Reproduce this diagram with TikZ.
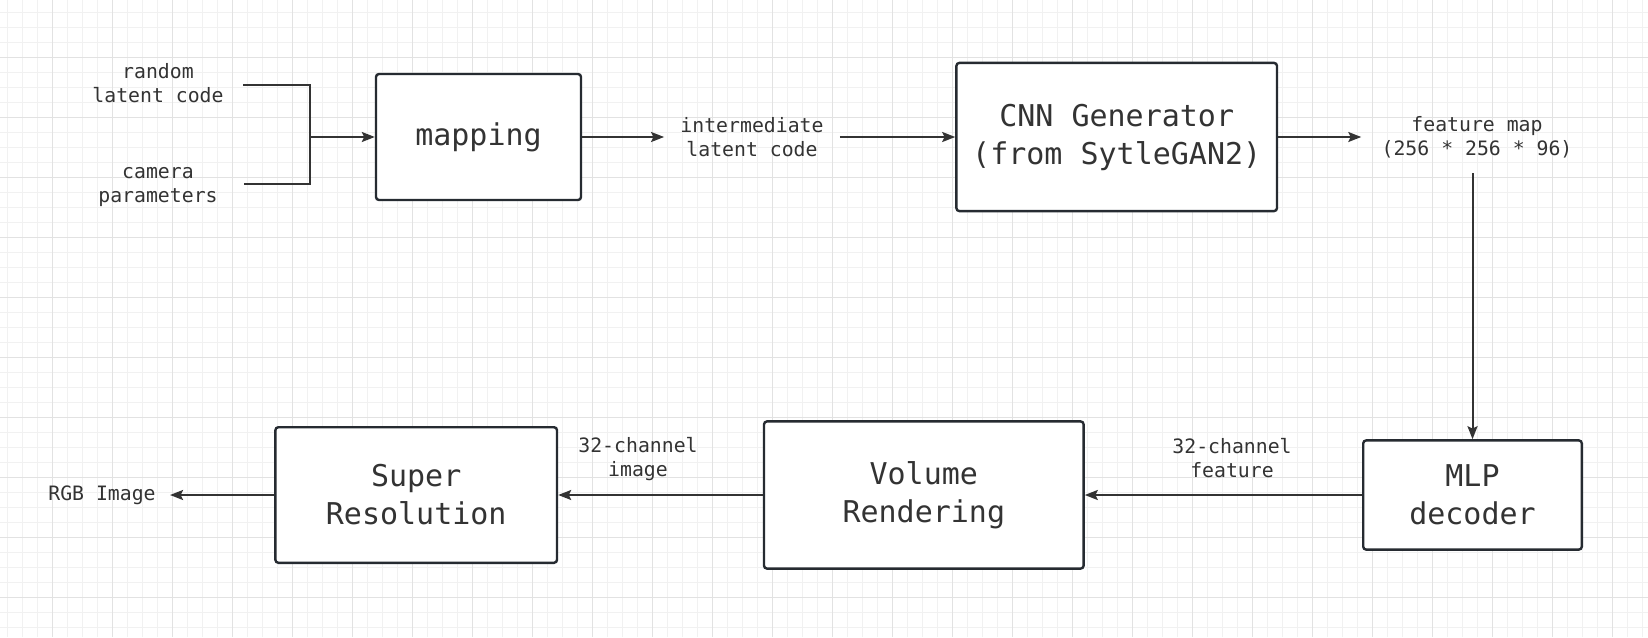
\documentclass[tikz,border=0pt]{standalone}
\usepackage{fontspec}
\setmainfont{DejaVu Sans Mono}
\usetikzlibrary{arrows.meta}
\definecolor{boxline}{HTML}{262B31}
\definecolor{wire}{HTML}{333333}
\definecolor{txt}{HTML}{333333}
\definecolor{gminor}{HTML}{F1F1F1}
\definecolor{gmajor}{HTML}{E2E2E2}
\begin{document}
\begin{tikzpicture}[x=0.5pt,y=-0.5pt,
  block/.style={draw=boxline, line width=1.2pt, rounded corners=1.5pt, fill=white,
    align=center, text=txt, font=\fontsize{15}{19}\selectfont, inner sep=0pt},
  lbl/.style={align=center, text=txt, font=\fontsize{9.9}{12}\selectfont, inner sep=2pt},
  wire/.style={draw=wire, line width=1pt},
  arr/.style={wire, -{Stealth[length=6.5pt,width=5pt,inset=1.2pt]}}]
\useasboundingbox (0,0) rectangle (1648,637);
\fill[white] (0,0) rectangle (1648,637);
% grid
\foreach \i in {0,...,109} \draw[gminor, line width=0.5pt] ({7.3+15*\i},0) -- ({7.3+15*\i},637);
\foreach \j in {0,...,41} \draw[gminor, line width=0.5pt] (0,{12.3+15*\j}) -- (1648,{12.3+15*\j});
\foreach \i in {0,...,26} \draw[gmajor, line width=0.5pt] ({52.3+60*\i},0) -- ({52.3+60*\i},637);
\foreach \j in {0,...,9} \draw[gmajor, line width=0.5pt] (0,{57.3+60*\j}) -- (1648,{57.3+60*\j});
% blocks
\node[block, minimum width=102.5pt, minimum height=63pt] (map) at (478.5,137) {mapping};
\node[block, minimum width=160.3pt, minimum height=74.1pt] (cnn) at (1116.7,137) {CNN Generator\\(from SytleGAN2)};
\node[block, minimum width=109.3pt, minimum height=54.6pt] (mlp) at (1472.5,495) {MLP\\decoder};
\node[block, minimum width=159.8pt, minimum height=73.6pt] (vol) at (923.8,495) {Volume\\Rendering};
\node[block, minimum width=140.8pt, minimum height=67.8pt] (sr) at (416.2,495) {Super\\Resolution};
% labels
\node[lbl] (rnd) at (158,83.5) {random\\latent code};
\node[lbl] (cam) at (158,187.5) {camera\\parameters};
\node[lbl, inner xsep=8pt] (inter) at (752,137) {intermediate\\latent code};
\node[lbl, inner xsep=10pt, inner ysep=7.5pt] (feat) at (1477,137) {feature map\\(256 * 256 * 96)};
\node[lbl] (l32f) at (1232,458.5) {32-channel\\feature};
\node[lbl] (l32i) at (638,459) {32-channel\\image};
\node[lbl, inner xsep=7pt] (rgb) at (102,495) {RGB Image};
% bracket
\coordinate (b1) at (243,84.5);
\coordinate (b2) at (244,183.7);
\coordinate (bj) at (310,137);
\draw[wire] (b1) -| (bj);
\draw[wire] (b2) -| (bj);
\draw[arr] (bj) -- (map.west);
% connectors
\draw[arr] (map.east) -- (inter.west);
\draw[arr] (inter.east) -- (cnn.west);
\draw[arr] (cnn.east) -- (feat.west);
\draw[arr] (feat.south -| mlp.north) -- (mlp.north);
\draw[arr] (mlp.west) -- (vol.east);
\draw[arr] (vol.west) -- (sr.east);
\draw[arr] (sr.west) -- (rgb.east);
\end{tikzpicture}
\end{document}
